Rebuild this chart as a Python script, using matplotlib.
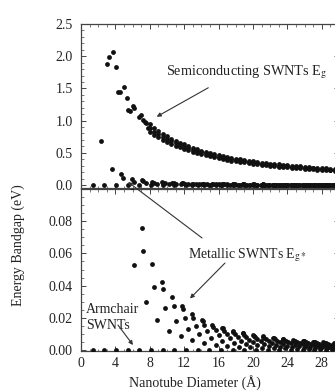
import numpy as np
import matplotlib
matplotlib.use("Agg")
import matplotlib.pyplot as plt
from matplotlib.ticker import MultipleLocator, FormatStrFormatter

plt.rcParams['font.family'] = ['Liberation Serif', 'DejaVu Serif']
plt.rcParams['mathtext.fontset'] = 'stix'

# semiconducting tubes, small diameters (read point by point)
semi_d = [2.99, 3.29, 3.72, 4.03, 4.34, 4.53, 4.97, 5.35, 5.47, 5.73, 6.05, 6.16,
          6.74, 6.95, 7.21, 7.41, 7.59, 7.79]
semi_e = [1.88, 1.98, 2.07, 1.84, 1.45, 1.45, 1.52, 1.35, 1.16, 1.15, 1.23, 1.19,
          1.06, 1.08, 1.01, 0.98, 0.96, 0.88]

# semiconducting band, larger diameters (upper / middle / lower edge of the dense band)
band_d = [8.0, 8.5, 9.0, 9.5, 10.0, 10.5, 11.0, 11.5, 12.0, 12.5, 13.0, 13.5, 14.0, 14.5,
          15.0, 15.5, 16.0, 16.5, 17.0, 17.5, 18.0, 18.5, 19.0, 19.5, 20.0, 20.5, 21.0,
          21.5, 22.0, 22.5, 23.0, 23.5, 24.0, 24.5, 25.0, 25.5, 26.0, 26.5, 27.0, 27.5,
          28.0, 28.5, 29.0, 29.5]
band_hi = [0.94, 0.885, 0.84, 0.797, 0.76, 0.722, 0.69, 0.657, 0.63, 0.603, 0.577, 0.555,
           0.534, 0.518, 0.497, 0.481, 0.465, 0.449, 0.433, 0.422, 0.411, 0.40, 0.39,
           0.379, 0.369, 0.358, 0.348, 0.342, 0.334, 0.327, 0.319, 0.313, 0.306, 0.299,
           0.293, 0.288, 0.282, 0.277, 0.272, 0.267, 0.263, 0.258, 0.254, 0.25]
band_mid = [0.88, 0.83, 0.79, 0.75, 0.715, 0.68, 0.65, 0.62, 0.595, 0.57, 0.545, 0.525,
            0.505, 0.49, 0.47, 0.455, 0.44, 0.425, 0.41, 0.40, 0.39, 0.38, 0.37, 0.36,
            0.35, 0.34, 0.33, 0.325, 0.317, 0.31, 0.303, 0.297, 0.29, 0.284, 0.278, 0.273,
            0.268, 0.263, 0.258, 0.253, 0.249, 0.245, 0.241, 0.237]
band_lo = [0.82, 0.775, 0.74, 0.703, 0.67, 0.638, 0.61, 0.583, 0.56, 0.537, 0.513, 0.495,
           0.476, 0.462, 0.443, 0.429, 0.415, 0.401, 0.387, 0.378, 0.369, 0.36, 0.35,
           0.341, 0.331, 0.322, 0.312, 0.308, 0.30, 0.293, 0.287, 0.281, 0.274, 0.269,
           0.263, 0.258, 0.254, 0.249, 0.244, 0.239, 0.235, 0.232, 0.228, 0.224]

# metallic tubes (diameter in A, gap in eV), one row per 2n+m family
metal_d = [1.36,
           2.35, 2.71,
           3.59, 4.07,
           4.70, 4.89, 5.42,
           5.91, 6.21, 6.78,
           7.05, 7.18, 7.55, 8.14,
           8.25, 8.47, 8.89, 9.49,
           9.40, 9.49, 9.78, 10.24, 10.85,
           10.59, 10.76, 11.10, 11.59, 12.21,
           11.75, 11.82, 12.05, 12.43, 12.94, 13.56,
           12.94, 13.08, 13.36, 13.76, 14.29, 14.92,
           14.09, 14.16, 14.35, 14.67, 15.10, 15.64, 16.27,
           15.28, 15.40, 15.64, 15.99, 16.44, 16.99, 17.63,
           16.44, 16.50, 16.67, 16.94, 17.31, 17.79, 18.35, 18.99,
           17.63, 17.73, 17.94, 18.25, 18.64, 19.13, 19.70, 20.34,
           18.79, 18.84, 18.99, 19.23, 19.56, 19.98, 20.48, 21.05, 21.70,
           19.98, 20.07, 20.25, 20.52, 20.88, 21.31, 21.83, 22.41, 23.06,
           21.14, 21.18, 21.31, 21.53, 21.83, 22.20, 22.65, 23.17, 23.76, 24.41,
           22.33, 22.41, 22.57, 22.81, 23.13, 23.53, 23.99, 24.52, 25.12, 25.77,
           23.49, 23.53, 23.65, 23.84, 24.11, 24.45, 24.86, 25.34, 25.88, 26.47, 27.12,
           24.67, 24.75, 24.90, 25.12, 25.41, 25.77, 26.19, 26.68, 27.23, 27.83, 28.48,
           25.84, 25.88, 25.98, 26.16, 26.40, 26.71, 27.09, 27.53, 28.02, 28.58, 29.18,
           27.02, 27.09, 27.23, 27.43, 27.69, 28.02, 28.42, 28.86, 29.37,
           28.19, 28.22, 28.32, 28.48, 28.70, 28.99, 29.34,
           29.37]
metal_e = [0.0,
           0.68, 0.0,
           0.245, 0.0,
           0.17, 0.104, 0.0,
           0.101, 0.0525, 0.0,
           0.0756, 0.0613, 0.0297, 0.0,
           0.0535, 0.0391, 0.0184, 0.0,
           0.0425, 0.0378, 0.0261, 0.0121, 0.0,
           0.0328, 0.0273, 0.0182, 0.0084, 0.0,
           0.0272, 0.0253, 0.0201, 0.0131, 0.0060, 0.0,
           0.0221, 0.0196, 0.0151, 0.0098, 0.0045, 0.0,
           0.0189, 0.0180, 0.0153, 0.0116, 0.0074, 0.0034, 0.0,
           0.0158, 0.0145, 0.0122, 0.0091, 0.0058, 0.0027, 0.0,
           0.0139, 0.0134, 0.0119, 0.0098, 0.0072, 0.0046, 0.0021, 0.0,
           0.0119, 0.0112, 0.0098, 0.0079, 0.0058, 0.0037, 0.0017, 0.0,
           0.0106, 0.0103, 0.0094, 0.0081, 0.0065, 0.0048, 0.0030, 0.0014, 0.0,
           0.0093, 0.0089, 0.0080, 0.0068, 0.0054, 0.0040, 0.0025, 0.0012, 0.0,
           0.0084, 0.0082, 0.0076, 0.0068, 0.0057, 0.0045, 0.0033, 0.0021, 0.0010, 0.0,
           0.0074, 0.0072, 0.0066, 0.0058, 0.0049, 0.0038, 0.0028, 0.0018, 0.0008, 0.0,
           0.0068, 0.0066, 0.0063, 0.0057, 0.0050, 0.0042, 0.0033, 0.0024, 0.0015, 0.0007, 0.0,
           0.0061, 0.0059, 0.0055, 0.0050, 0.0043, 0.0036, 0.0028, 0.0021, 0.0013, 0.0006, 0.0,
           0.0056, 0.0055, 0.0053, 0.0049, 0.0044, 0.0038, 0.0031, 0.0024, 0.0018, 0.0011, 0.0005,
           0.0051, 0.0050, 0.0047, 0.0043, 0.0039, 0.0033, 0.0027, 0.0021, 0.0015,
           0.0047, 0.0046, 0.0045, 0.0042, 0.0038, 0.0034, 0.0029,
           0.0043]

top_yticks = [0.0, 0.5, 1.0, 1.5, 2.0, 2.5]
bot_yticks = [0.00, 0.02, 0.04, 0.06, 0.08]
xticks = [0, 4, 8, 12, 16, 20, 24, 28]

W, H = 335, 392
fig = plt.figure(figsize=(W / 100, H / 100), dpi=100)
fig.patch.set_facecolor('white')

ax_top = fig.add_axes([81 / W, 1 - 187.6 / H, 258 / W, 163.6 / H])
ax_bot = fig.add_axes([81 / W, 1 - 351.3 / H, 258 / W, 162.3 / H])

dot = dict(s=12, color='#111111', linewidths=0, zorder=3, clip_on=True)
txt_col = '#222222'

for ax in (ax_top, ax_bot):
    ax.set_facecolor('none')
    ax.scatter(semi_d, semi_e, **dot)
    ax.scatter(band_d, band_hi, **dot)
    ax.scatter(band_d, band_mid, **dot)
    ax.scatter(band_d, band_lo, **dot)
    ax.scatter(metal_d, metal_e, **dot)
    ax.set_xlim(0, 30)
    ax.set_xticks(xticks)
    ax.xaxis.set_minor_locator(MultipleLocator(1))
    ax.tick_params(which='both', direction='in', top=True, right=True,
                   labelsize=10, colors='#444444', labelcolor=txt_col)
    ax.tick_params(which='major', length=3.5, width=0.7, pad=6)
    ax.tick_params(which='minor', length=1.8, width=0.5)
    for sp in ax.spines.values():
        sp.set_color('#444444')
        sp.set_linewidth(0.9)

ax_top.set_ylim(-0.04, 2.5)
ax_top.set_yticks(top_yticks)
ax_top.yaxis.set_major_formatter(FormatStrFormatter('%.1f'))
ax_top.yaxis.set_minor_locator(MultipleLocator(0.1))
ax_top.tick_params(labelbottom=False)

ax_bot.set_ylim(-0.0008, 0.1)
ax_bot.set_yticks(bot_yticks)
ax_bot.yaxis.set_major_formatter(FormatStrFormatter('%.2f'))
ax_bot.yaxis.set_minor_locator(MultipleLocator(0.005))
ax_bot.tick_params(axis='x', pad=4)

fig.text(18 / W, 1 - 245 / H, 'Energy Bandgap (eV)', rotation=90,
         ha='center', va='center', fontsize=10, color=txt_col)
fig.text(195 / W, 1 - 383 / H, 'Nanotube Diameter (\u00c5)',
         ha='center', va='center', fontsize=10, color=txt_col)

arrow = dict(arrowstyle='-|>', lw=0.8, color='#333333', mutation_scale=6,
             shrinkA=0, shrinkB=0)

ax_top.text(9.88, 1.755, 'Semiconducting SWNTs E$_\\mathrm{g}$', fontsize=10.3,
            color=txt_col, va='center', ha='left', clip_on=False)
ax_top.annotate('', xy=(8.8, 1.06), xytext=(14.8, 1.51), arrowprops=arrow)

ax_bot.text(12.44, 0.059, 'Metallic SWNTs E$_\\mathrm{g*}$', fontsize=10,
            color=txt_col, va='center', ha='left', clip_on=False)
ax_bot.annotate('', xy=(12.67, 0.032), xytext=(16.74, 0.054), arrowprops=arrow)
ax_bot.annotate('', xy=(5.47, 0.047), xycoords=ax_top.transData,
                xytext=(14.07, 0.0696), textcoords=ax_bot.transData,
                arrowprops=arrow, annotation_clip=False)

ax_bot.text(0.58, 0.0205, 'Armchair\nSWNTs', fontsize=10, color=txt_col,
            va='center', ha='left', linespacing=1.3)
ax_bot.annotate('', xy=(6.05, 0.0031), xytext=(4.3, 0.0155), arrowprops=arrow)

fig.savefig('out.png', dpi=100)
